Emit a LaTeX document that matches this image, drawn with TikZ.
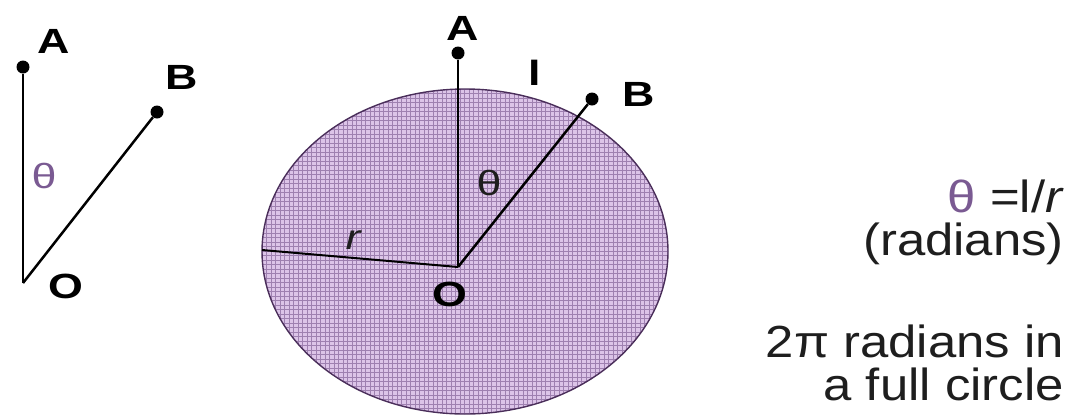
\documentclass[tikz,border=0pt]{standalone}
\usepackage{fontspec}
\setmainfont{Liberation Sans}
\definecolor{thetac}{HTML}{7A5A92}
\definecolor{circfill}{HTML}{DCC4E8}
\definecolor{circgrid}{HTML}{9E80B0}
\definecolor{circedge}{HTML}{4A2E5A}
\definecolor{txtc}{HTML}{1E1E1E}
\newcommand\wlab[1]{\scalebox{1.28}[1]{#1}}
\newcommand\wtxt[1]{\scalebox{1.13}[1]{#1}}
\begin{document}
\begin{tikzpicture}[x=1pt,y=-1pt,
  dot/.style={circle,fill=black,inner sep=0pt,minimum size=13pt},
  lab/.style={font=\fontsize{35}{40}\selectfont\bfseries,text=black,inner sep=0pt,anchor=base},
  thl/.style={font=\fontsize{35}{40}\selectfont,text=thetac,inner sep=0pt,anchor=base},
  rtxt/.style={font=\fontsize{45}{43}\selectfont,text=txtc,inner sep=0pt,anchor=base east},
  ray/.style={line width=2.5pt,black},
  gridl/.style={line width=1pt,circgrid}]
\useasboundingbox (0,0) rectangle (1076,416);
% ---- left figure ----
\coordinate (O1) at (23,283);
\node[dot] (A1) at (23,67) {};
\node[dot] (B1) at (157,112) {};
\draw[ray] (O1) -- (A1);
\draw[ray] (O1) -- (B1);
\node[lab] (lA1) at (54,53) {\wlab{A}};
\node[lab] (lB1) at (182,89) {\wlab{B}};
\node[lab] (lO1) at (66,298) {\wlab{O}};
\node[thl] (th1) at (44,188) {\wlab{θ}};
% ---- circle ----
\begin{scope}
\clip (465,251.5) ellipse [x radius=203pt, y radius=162.5pt];
\fill[circfill] (260,87) rectangle (670,416);
\foreach \gx in {262,266.5,...,670} \draw[gridl] (\gx,87) -- (\gx,416);
\foreach \gy in {89,93.5,...,416} \draw[gridl] (260,\gy) -- (670,\gy);
\end{scope}
\draw[line width=1.4pt,circedge] (465,251.5) ellipse [x radius=203pt, y radius=162.5pt];
\coordinate (O2) at (458,267);
\coordinate (R2) at (262,250);
\node[dot] (A2) at (458,53) {};
\node[dot] (B2) at (592,99) {};
\draw[ray] (O2) -- (A2);
\draw[ray] (O2) -- (B2);
\draw[line width=2pt,black] (O2) -- (R2);
\node[lab] (lA2) at (463,40) {\wlab{A}};
\node[lab] (lB2) at (639,106) {\wlab{B}};
\node[lab] (ll2) at (535,85) {\wlab{l}};
\node[thl,text=txtc] (th2) at (489,195) {\wlab{θ}};
\node[lab,text=txtc,font=\fontsize{35}{40}\selectfont] (lr2) at (353,249) {\wlab{\itshape r}};
\node[lab] (lO2) at (450,306) {\wlab{O}};
% ---- right text ----
\node[rtxt] (t1) at (1064,212) {\wtxt{\textcolor{thetac}{θ} =l/\textit{r}}};
\node[rtxt] (t2) at (1064,255) {\wtxt{(radians)}};
\node[rtxt] (t3) at (1064,357) {\wtxt{2π radians in}};
\node[rtxt] (t4) at (1064,400) {\wtxt{a full circle}};
\end{tikzpicture}
\end{document}
